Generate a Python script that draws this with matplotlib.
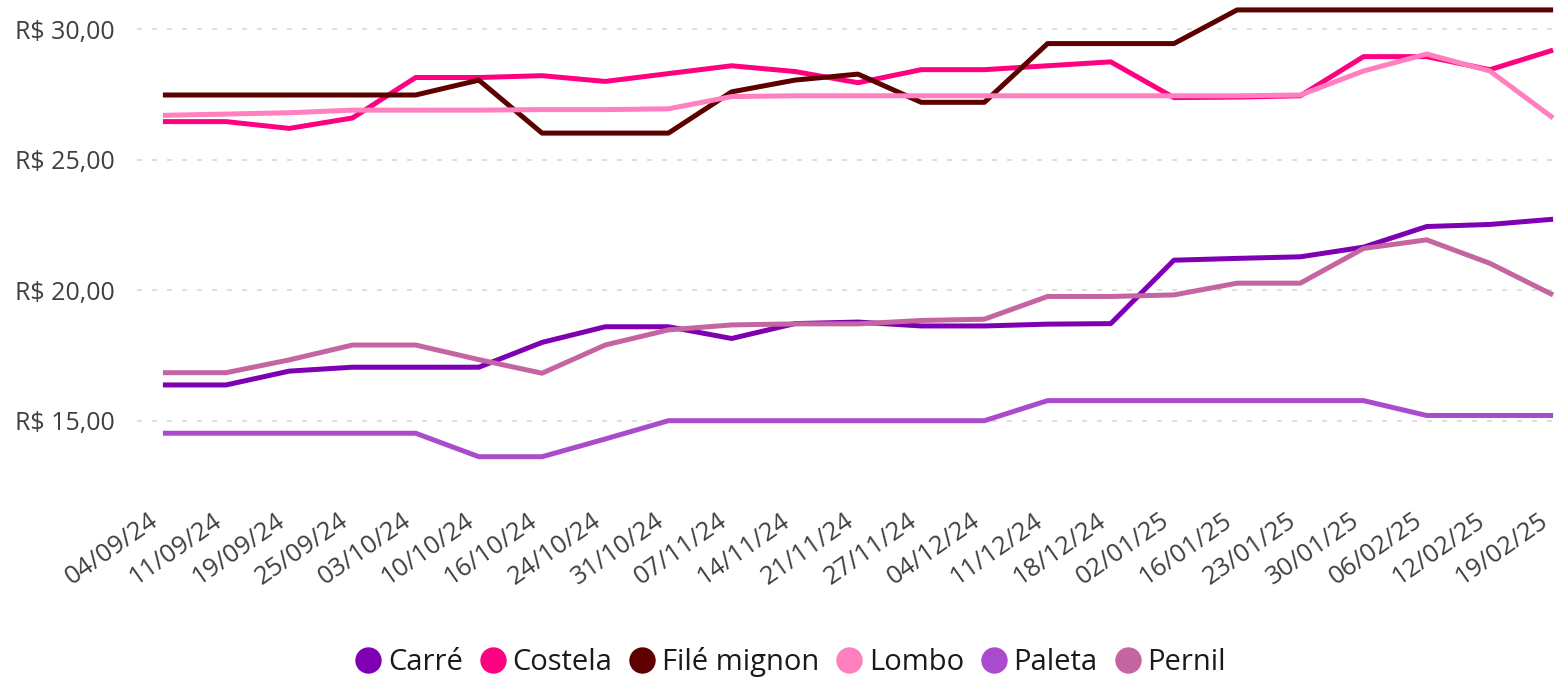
import matplotlib
matplotlib.use("Agg")
import matplotlib.pyplot as plt
from matplotlib.lines import Line2D
from matplotlib.ticker import FuncFormatter
from matplotlib.transforms import ScaledTranslation

plt.rcParams['font.family'] = ['Open Sans', 'DejaVu Sans']

dates = ['04/09/24', '11/09/24', '19/09/24', '25/09/24', '03/10/24', '10/10/24',
         '16/10/24', '24/10/24', '31/10/24', '07/11/24', '14/11/24', '21/11/24',
         '27/11/24', '04/12/24', '11/12/24', '18/12/24', '02/01/25', '16/01/25',
         '23/01/25', '30/01/25', '06/02/25', '12/02/25', '19/02/25']

carre = [16.37, 16.37, 16.9, 17.05, 17.05, 17.05, 18.0, 18.6, 18.6, 18.15, 18.72, 18.78,
         18.63, 18.63, 18.7, 18.72, 21.15, 21.22, 21.28, 21.65, 22.44, 22.52, 22.72]
costela = [26.46, 26.46, 26.2, 26.6, 28.15, 28.15, 28.22, 28.0, 28.3, 28.6, 28.38, 27.95,
           28.45, 28.45, 28.6, 28.75, 27.38, 27.4, 27.45, 28.95, 28.95, 28.45, 29.2]
file_mignon = [27.48, 27.48, 27.48, 27.48, 27.48, 28.05, 26.02, 26.02, 26.02, 27.6, 28.05, 28.28,
               27.2, 27.2, 29.45, 29.45, 29.45, 30.74, 30.74, 30.74, 30.74, 30.74, 30.74]
lombo = [26.7, 26.75, 26.8, 26.9, 26.9, 26.9, 26.92, 26.92, 26.95, 27.42, 27.45, 27.45,
         27.45, 27.45, 27.45, 27.45, 27.45, 27.45, 27.48, 28.4, 29.05, 28.4, 26.6]
paleta = [14.52, 14.52, 14.52, 14.52, 14.52, 13.62, 13.62, 14.3, 15.0, 15.0, 15.0, 15.0,
          15.0, 15.0, 15.77, 15.77, 15.77, 15.77, 15.77, 15.77, 15.2, 15.2, 15.2]
pernil = [16.84, 16.84, 17.33, 17.9, 17.9, 17.34, 16.82, 17.9, 18.48, 18.67, 18.71, 18.71,
          18.84, 18.89, 19.76, 19.76, 19.82, 20.27, 20.27, 21.6, 21.93, 21.03, 19.82]

series_names = ['Carré', 'Costela', 'Filé mignon', 'Lombo', 'Paleta', 'Pernil']
series_values = [carre, costela, file_mignon, lombo, paleta, pernil]
colors = ['#7f00b2', '#ff0080', '#5c0000', '#ff7fbf', '#aa4bcc', '#c464a0']

fig = plt.figure(figsize=(15.57, 6.77), dpi=100)
ax = fig.add_axes([137 / 1557, 178 / 677, 1442 / 1557, 499 / 677])

x = list(range(len(dates)))
for vals, col in zip(series_values, colors):
    ax.plot(x, vals, color=col, lw=3.6, solid_joinstyle='round', solid_capstyle='butt')

ax.set_xlim(-0.41, len(dates) - 1 + 0.41)
ax.set_ylim(12.0, 31.12)
ax.set_yticks([15, 20, 25, 30])
ax.yaxis.set_major_formatter(FuncFormatter(lambda v, p: 'R$ %d,00' % v))
ax.grid(axis='y', color='#d8d8d8', lw=1.2, linestyle=(0, (3, 6)))
ax.set_axisbelow(True)

ax.set_xticks(x)
ax.set_xticklabels(dates, rotation=35, ha='right', va='center', rotation_mode='anchor')
ax.tick_params(axis='x', length=0, pad=14, labelsize=18.5, labelcolor='#404040')
ax.tick_params(axis='y', length=0, pad=16, labelsize=18, labelcolor='#404040')
shift = ScaledTranslation(-0.07, 0, fig.dpi_scale_trans)
for lab in ax.get_xticklabels():
    lab.set_transform(lab.get_transform() + shift)
for s in ax.spines.values():
    s.set_visible(False)

handles = [Line2D([], [], marker='o', linestyle='', markersize=18,
                  markerfacecolor=c, markeredgecolor=c) for c in colors]
fig.legend(handles, series_names, loc='center', bbox_to_anchor=(0.508, 0.022),
           ncol=6, frameon=False, fontsize=21, handlelength=0.85,
           handletextpad=0.25, columnspacing=0.6, labelcolor='#1a1a1a')

fig.savefig('out.png', dpi=100)
